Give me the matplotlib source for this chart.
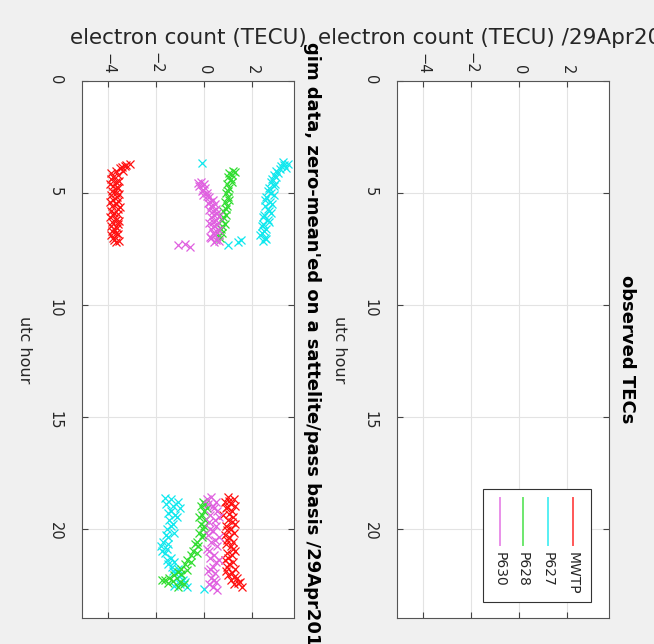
import matplotlib
matplotlib.use("Agg")
import matplotlib.pyplot as plt
from matplotlib.lines import Line2D
from matplotlib.patches import Rectangle

MWTP_HOUR = [3.7, 3.75, 3.8, 3.85, 3.9, 4.0, 4.0, 4.1, 4.2, 4.3, 4.4, 4.5, 4.6, 4.7, 4.8, 4.9,
             5.0, 5.1, 5.2, 5.3, 5.4, 5.5, 5.6, 5.7, 5.8, 5.9, 6.0, 6.1, 6.2, 6.3, 6.4, 6.5, 6.6,
             6.7, 6.8, 6.9, 7.0, 7.1, 7.2, 4.45, 4.75, 5.05, 5.35, 5.65, 5.95, 6.25, 6.55, 6.85,
             7.15,
             18.6, 18.7, 18.8, 18.9, 19.0, 19.1, 19.2, 19.4, 19.5, 19.6, 19.8, 19.9, 20.0, 20.2,
             20.3, 20.4, 20.6, 20.7, 20.8, 21.0, 21.1, 21.2, 21.4, 21.5, 21.6, 21.8, 21.9, 22.0,
             22.1, 22.2, 22.3, 22.4, 22.5, 22.6, 18.75, 19.05, 19.35, 19.7, 20.05, 20.5, 20.9,
             21.3, 21.7, 22.15, 22.45]
MWTP_TEC = [-3.1, -3.25, -3.3, -3.45, -3.5, -3.7, -3.4, -3.9, -3.6, -3.8, -3.9, -3.7, -3.95,
            -3.8, -3.6, -3.85, -3.7, -3.9, -3.65, -3.8, -3.95, -3.7, -3.85, -3.6, -3.9, -3.75,
            -3.8, -3.95, -3.7, -3.85, -3.6, -3.9, -3.75, -3.85, -3.7, -3.9, -3.8, -3.75, -3.7,
            -3.55, -3.65, -3.55, -3.6, -3.5, -3.6, -3.55, -3.65, -3.6, -3.55,
            1.0, 1.25, 0.85, 1.1, 1.3, 0.9, 1.15, 0.8, 1.2, 1.0, 1.3, 0.9, 1.1, 1.25, 0.85, 1.05,
            1.2, 0.9, 1.1, 1.3, 0.95, 1.15, 0.85, 1.2, 1.05, 1.3, 0.9, 1.15, 1.0, 1.35, 1.1, 1.5,
            1.25, 1.6, 1.05, 0.95, 1.05, 1.15, 0.95, 0.95, 1.2, 1.0, 0.95, 1.25, 1.4]

P627_HOUR = [3.6, 3.65, 3.7, 3.8, 3.9, 4.0, 4.1, 4.2, 4.4, 4.6, 4.8, 5.0, 5.2, 5.4, 5.6, 5.8,
             6.0, 6.2, 6.4, 6.6, 6.8, 7.0, 7.15, 7.1, 7.2, 7.35, 3.75, 3.95, 4.3, 4.5, 4.7, 4.9,
             5.1, 5.3, 5.5, 5.7, 5.9, 6.1, 6.3, 6.5, 6.7, 6.9, 7.05,
             18.7, 18.8, 18.9, 19.0, 19.1, 19.3, 19.4, 19.6, 19.8, 20.0, 20.2, 20.4, 20.6, 20.8,
             20.9, 21.1, 21.3, 21.5, 21.6, 21.8, 21.9, 22.1, 22.2, 22.4, 22.5, 22.6, 22.7,
             18.65, 19.2, 19.5, 19.9, 20.3, 20.7, 21.0, 21.4, 21.7, 22.0, 22.3, 22.55]
P627_TEC = [3.3, -0.1, 3.5, 3.2, 3.4, 3.0, 3.1, 2.9, 2.85, 2.95, 2.7, 2.8, 2.6, 2.75, 2.55, 2.7,
            2.5, 2.65, 2.45, 2.6, 2.4, 2.55, 2.45, 1.55, 1.4, 1.0, 3.35, 3.15, 3.0, 2.8, 2.9,
            2.65, 2.9, 2.55, 2.85, 2.65, 2.8, 2.45, 2.7, 2.4, 2.5, 2.35, 2.6,
            -1.4, -1.1, -1.6, -1.3, -1.0, -1.5, -1.2, -1.45, -1.3, -1.55, -1.25, -1.5, -1.7, -1.8,
            -1.55, -1.65, -1.4, -1.25, -1.5, -1.1, -1.3, -0.95, -1.15, -0.8, -1.0, -0.7, 0.0,
            -1.65, -1.4, -1.15, -1.4, -1.6, -1.5, -1.75, -1.55, -1.35, -1.2, -0.9, -1.25]

P628_HOUR = [4.0, 4.1, 4.2, 4.3, 4.4, 4.6, 4.8, 5.0, 5.2, 5.4, 5.6, 5.8, 6.0, 6.2, 6.4, 6.6, 6.8,
             7.0, 4.05, 4.5, 4.9, 5.3, 5.7, 6.1, 6.5, 6.9,
             18.8, 18.9, 19.0, 19.2, 19.4, 19.6, 19.8, 20.0, 20.2, 20.4, 20.6, 20.8, 21.0, 21.2,
             21.4, 21.6, 21.8, 21.95, 22.1, 22.2, 22.3, 22.35, 22.4, 22.5, 22.3, 19.1, 19.5,
             19.9, 20.3, 20.7, 21.1, 21.5, 21.85, 22.05, 22.45, 22.6]
P628_TEC = [1.2, 1.05, 1.15, 1.0, 1.1, 0.95, 1.05, 0.9, 1.0, 0.85, 0.95, 0.8, 0.9, 0.75, 0.85,
            0.7, 0.75, 0.65, 1.3, 1.15, 1.0, 1.05, 0.9, 0.8, 0.75, 0.6,
            -0.05, 0.05, -0.15, 0.0, -0.1, 0.05, -0.15, -0.05, -0.2, -0.1, -0.3, -0.25, -0.45,
            -0.55, -0.7, -0.8, -0.95, -1.1, -1.25, -1.45, -1.65, -1.3, -1.0, -0.85, -1.75,
            0.1, -0.2, 0.0, -0.05, -0.4, -0.3, -0.55, -0.7, -0.95, -1.5, -1.1]

P630_HOUR = [4.5, 4.6, 4.7, 4.8, 4.9, 5.0, 5.1, 5.2, 5.3, 5.4, 5.5, 5.6, 5.7, 5.8, 5.9, 6.0, 6.1,
             6.2, 6.3, 6.4, 6.5, 6.6, 6.7, 6.8, 6.9, 7.0, 7.1, 7.2, 7.35, 7.3, 7.4, 4.55, 4.85,
             5.15, 5.45, 5.75, 6.05, 6.35, 6.65, 6.95, 7.15,
             18.6, 18.8, 18.9, 19.1, 19.2, 19.4, 19.6, 19.7, 19.9, 20.1, 20.3, 20.5, 20.6, 20.8,
             21.0, 21.2, 21.3, 21.5, 21.7, 21.9, 22.0, 22.2, 22.4, 22.5, 22.75, 18.7, 19.0,
             19.5, 20.0, 20.4, 20.9, 21.4, 21.8, 22.3, 22.6]
P630_TEC = [-0.15, 0.0, -0.2, 0.05, -0.1, 0.1, -0.05, 0.2, 0.35, 0.25, 0.45, 0.3, 0.5, 0.35,
            0.55, 0.4, 0.3, 0.5, 0.35, 0.55, 0.4, 0.3, 0.5, 0.35, 0.45, 0.3, 0.5, 0.4, -1.1, -0.8,
            -0.6, -0.25, -0.05, 0.1, 0.15, 0.2, 0.6, 0.2, 0.6, 0.25, 0.6,
            0.3, 0.5, 0.15, 0.4, 0.55, 0.25, 0.45, 0.2, 0.5, 0.35, 0.15, 0.45, 0.3, 0.55, 0.2,
            0.4, 0.25, 0.5, 0.35, 0.15, 0.45, 0.3, 0.5, 0.2, 0.55, 0.1, 0.35, 0.6, 0.25, 0.6,
            0.1, 0.6, 0.25, 0.4, 0.35]

SERIES = ["MWTP", "P627", "P628", "P630"]
COLORS = {"MWTP": "#ff1010", "P627": "#10e8ee", "P628": "#30dd30", "P630": "#e060e0"}
GIM = {
    "MWTP": (MWTP_HOUR, MWTP_TEC),
    "P627": (P627_HOUR, P627_TEC),
    "P628": (P628_HOUR, P628_TEC),
    "P630": (P630_HOUR, P630_TEC),
}

HOUR_TICKS = [0, 5, 10, 15, 20]
TEC_TICKS = [-4, -2, 0, 2]

W, H = 654, 644
TEXT = "#262626"


def px_axes(fig, x0, y0, x1, y1):
    # pixel box (top-left origin) -> figure fraction
    return fig.add_axes([x0 / W, 1 - y1 / H, (x1 - x0) / W, (y1 - y0) / H])


def style_axes(ax, xlabel, title):
    # chart is shown turned 90 degrees clockwise: TEC runs left->right, hour runs top->bottom
    ax.set_facecolor("white")
    ax.set_xlim(-5.1, 3.75)
    ax.set_ylim(24, 0)
    ax.set_xticks(TEC_TICKS)
    ax.set_yticks(HOUR_TICKS)
    ax.xaxis.tick_top()
    ax.xaxis.set_label_position("top")
    ax.tick_params(direction="in", length=4, width=0.8, top=True, bottom=True,
                   left=True, right=True, colors="#444444", labelcolor=TEXT, labelsize=10.5)
    for lab in ax.get_xticklabels() + ax.get_yticklabels():
        lab.set_rotation(-90)
    ax.tick_params(axis="x", pad=5)
    ax.tick_params(axis="y", pad=14)
    ax.grid(True, color="#e3e3e3", linewidth=0.8)
    ax.set_axisbelow(True)
    for sp in ax.spines.values():
        sp.set_color("#555555")
        sp.set_linewidth(0.8)
    ax.set_xlabel(xlabel, fontsize=15.5, color=TEXT, labelpad=6)
    ax.set_ylabel("utc hour", fontsize=11.5, color=TEXT, rotation=-90, labelpad=22)
    ax.text(1.085, 0.5, title, transform=ax.transAxes, rotation=-90, ha="center",
            va="center", fontsize=13, fontweight="bold", color="black", clip_on=False)


def draw_legend(ax):
    ax.add_patch(Rectangle((0.406, 0.030), 0.509, 0.210, transform=ax.transAxes,
                           facecolor="white", edgecolor="#333333", linewidth=0.8, zorder=5))
    xs = [0.830, 0.712, 0.594, 0.486]
    for name, x in zip(SERIES, xs):
        ax.add_line(Line2D([x, x], [0.223, 0.136], transform=ax.transAxes,
                           color=COLORS[name], linewidth=1.4, alpha=0.7, zorder=6))
        ax.text(x, 0.122, name, transform=ax.transAxes, rotation=-90, ha="center", va="top",
                fontsize=10, color=TEXT, zorder=6)


def main():
    fig = plt.figure(figsize=(W / 100, H / 100), dpi=100, facecolor="#f0f0f0")

    ax_gim = px_axes(fig, 82, 81, 294, 618)
    ax_obs = px_axes(fig, 397, 81, 609, 618)

    for name in SERIES:
        hours, tec = GIM[name]
        ax_gim.plot(tec, hours, linestyle="none", marker="x", markersize=6,
                    markeredgewidth=0.9, color=COLORS[name])

    style_axes(ax_gim, "electron count (TECU)",
               "gim data, zero-mean'ed on a sattelite/pass basis /29Apr2014")
    style_axes(ax_obs, "electron count (TECU) /29Apr2014", "observed TECs")
    draw_legend(ax_obs)

    fig.savefig("out.png", dpi=100, facecolor=fig.get_facecolor())


if __name__ == "__main__":
    main()
